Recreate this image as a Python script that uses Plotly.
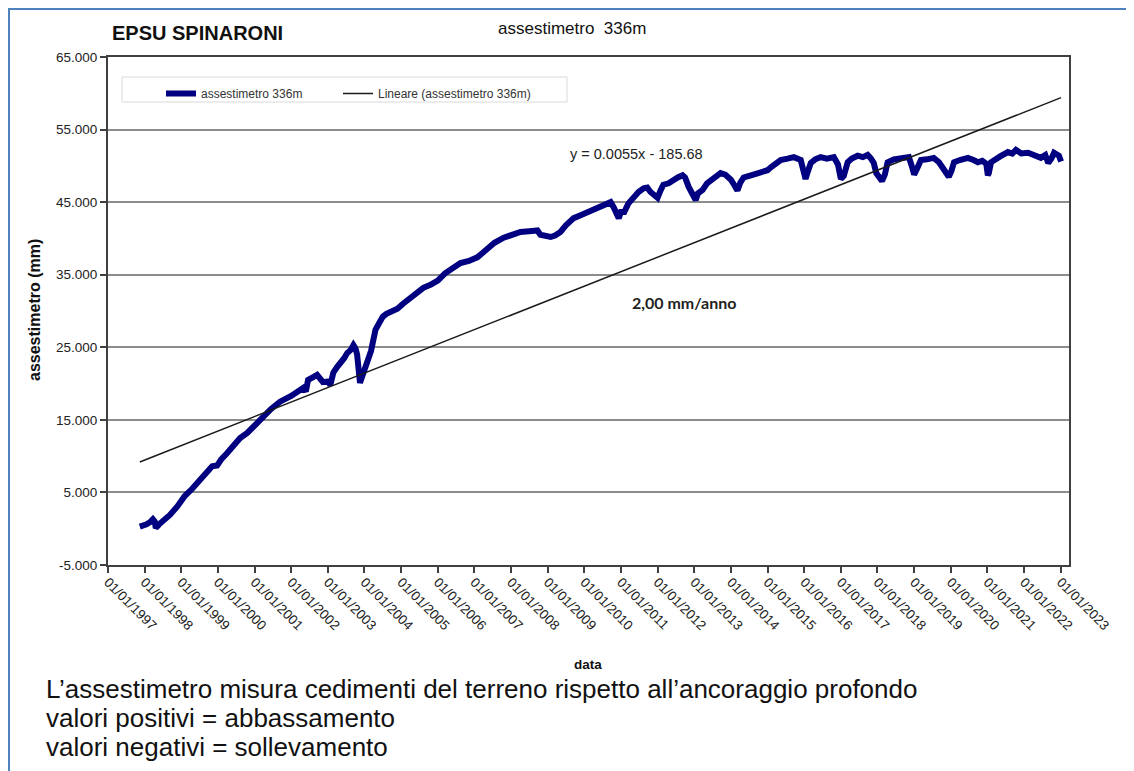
import plotly.graph_objects as go

# ---- data ----
dates = [
    "1997-11-14", "1997-12-15", "1998-01-20", "1998-02-25", "1998-03-25", "1998-04-12", "1998-04-22",
    "1998-05-25", "1998-07-20", "1998-09-10", "1998-11-25", "1999-02-05", "1999-04-20", "1999-07-01",
    "1999-09-12", "1999-11-05", "1999-12-25", "2000-02-05", "2000-04-01", "2000-06-15", "2000-08-10",
    "2000-10-20", "2000-12-15", "2001-02-05", "2001-03-28", "2001-06-15", "2001-09-12", "2002-01-01",
    "2002-05-01", "2002-05-27", "2002-06-18", "2002-08-08", "2002-09-16", "2002-11-13", "2003-01-01",
    "2003-01-26", "2003-02-25", "2003-04-05", "2003-05-08", "2003-06-13", "2003-07-13", "2003-08-15",
    "2003-09-13", "2003-10-05", "2003-10-20", "2003-11-03", "2003-11-18", "2003-12-05", "2004-01-01",
    "2004-01-30", "2004-03-07", "2004-04-20", "2004-05-26", "2004-07-01", "2004-08-07", "2004-10-01",
    "2004-11-25", "2005-01-20", "2005-04-02", "2005-06-13", "2005-08-10", "2005-10-20", "2006-01-01",
    "2006-03-15", "2006-06-07", "2006-08-15", "2006-11-07", "2007-01-30", "2007-03-23", "2007-05-12",
    "2007-07-20", "2007-10-20", "2008-01-01", "2008-04-05", "2008-07-01", "2008-09-20", "2008-10-20",
    "2008-12-13", "2009-01-30", "2009-03-15", "2009-05-08", "2009-07-01", "2009-09-17", "2009-11-25",
    "2010-02-02", "2010-04-01", "2010-06-10", "2010-08-08", "2010-09-20", "2010-10-20", "2010-11-17",
    "2010-12-10", "2011-01-08", "2011-01-26", "2011-03-15", "2011-05-05", "2011-06-25", "2011-08-15",
    "2011-09-20", "2011-10-23", "2011-12-03", "2012-01-01", "2012-01-30", "2012-02-28", "2012-04-20",
    "2012-06-10", "2012-07-20", "2012-09-06", "2012-10-01", "2012-11-06", "2012-12-13", "2013-01-15",
    "2013-02-06", "2013-03-25", "2013-05-08", "2013-07-13", "2013-09-20", "2013-11-06", "2014-01-01",
    "2014-02-06", "2014-03-07", "2014-04-05", "2014-05-08", "2014-07-20", "2014-09-24", "2014-11-17",
    "2015-01-01", "2015-02-03", "2015-03-15", "2015-05-12", "2015-07-20", "2015-09-20", "2015-11-28",
    "2015-12-23", "2016-01-15", "2016-02-06", "2016-03-07", "2016-04-20", "2016-06-13", "2016-08-15",
    "2016-10-23", "2016-12-03", "2017-01-01", "2017-01-30", "2017-03-10", "2017-04-20", "2017-06-18",
    "2017-08-08", "2017-09-25", "2017-10-28", "2017-11-25", "2017-12-20", "2018-01-15", "2018-02-15",
    "2018-03-15", "2018-04-12", "2018-06-13", "2018-08-22", "2018-11-10", "2018-12-13", "2019-01-01",
    "2019-01-30", "2019-03-10", "2019-05-08", "2019-07-16", "2019-09-06", "2019-10-15", "2019-11-17",
    "2019-12-13", "2020-01-08", "2020-02-03", "2020-04-01", "2020-06-20", "2020-08-15", "2020-09-27",
    "2020-11-10", "2020-12-20", "2021-01-05", "2021-01-15", "2021-02-06", "2021-03-07", "2021-05-08",
    "2021-07-24", "2021-09-06", "2021-10-12", "2021-12-03", "2022-02-10", "2022-04-20", "2022-06-17",
    "2022-08-01", "2022-08-30", "2022-10-01", "2022-10-27", "2022-12-15", "2023-01-05",
]
values = [
    0.3, 0.4, 0.6, 0.9, 1.3, 1.0, 0.1,
    0.6, 1.2, 1.9, 3.1, 4.5, 5.5, 6.7,
    7.8, 8.6, 8.7, 9.6, 10.4, 11.5, 12.5,
    13.2, 13.9, 14.6, 15.4, 16.5, 17.5, 18.3,
    19.4, 18.9, 20.5, 20.9, 21.2, 20.2, 20.3,
    19.8, 21.5, 22.3, 22.8, 23.5, 24.2, 24.6,
    25.3, 24.8, 24.0, 21.8, 20.1, 20.8, 21.8,
    22.8, 24.5, 27.4, 28.5, 29.2, 29.6, 30.0,
    30.3, 31.0, 31.8, 32.5, 33.2, 33.6, 34.2,
    35.2, 36.1, 36.6, 36.9, 37.4, 38.0, 38.7,
    39.4, 40.1, 40.5, 40.9, 41.0, 41.1, 40.5,
    40.3, 40.2, 40.4, 40.9, 41.8, 42.8, 43.2,
    43.6, 43.9, 44.3, 44.6, 45.0, 44.3, 43.2,
    42.8, 43.9, 43.4, 44.8, 45.7, 46.4, 46.9,
    47.0, 46.4, 46.0, 45.6, 46.6, 47.4, 47.6,
    48.1, 48.4, 48.7, 48.4, 47.1, 46.0, 45.3,
    46.2, 46.7, 47.6, 48.4, 49.0, 48.8, 48.1,
    47.3, 46.6, 47.7, 48.4, 48.7, 49.0, 49.2,
    49.4, 49.8, 50.3, 50.8, 51.0, 51.2, 50.8,
    49.6, 48.2, 49.2, 50.4, 50.9, 51.2, 51.0,
    51.2, 50.2, 48.2, 48.6, 50.5, 51.0, 51.4,
    51.2, 51.5, 51.0, 50.4, 49.0, 48.5, 47.9,
    48.8, 50.5, 50.9, 51.1, 51.2, 49.8, 48.8,
    49.6, 50.8, 50.9, 51.1, 50.5, 49.8, 48.9,
    48.5, 49.3, 50.5, 50.8, 51.1, 50.8, 50.5,
    50.7, 50.3, 48.7, 49.0, 50.5, 50.8, 51.3,
    51.9, 51.7, 52.2, 51.7, 51.8, 51.4, 51.1,
    51.5, 50.4, 51.0, 51.8, 51.4, 50.6,
]

trend_dates = [dates[0], dates[-1]]
trend_values = [9.2, 59.4]

series_name = "assestimetro 336m"
trend_name = "Lineare (assestimetro 336m)"

years = list(range(1997, 2024))
x_tickvals = [f"{y}-01-01" for y in years]
x_ticktext = [f"01/01/{y}" for y in years]

y_tickvals = [-5, 5, 15, 25, 35, 45, 55, 65]
y_ticktext = ["-5.000", "5.000", "15.000", "25.000", "35.000", "45.000", "55.000", "65.000"]

FONT = "Arial, Liberation Sans, sans-serif"

fig = go.Figure()
fig.add_trace(go.Scatter(
    x=dates, y=values, mode="lines", name=series_name,
    line=dict(color="#000080", width=6), legend="legend",
))
fig.add_trace(go.Scatter(
    x=trend_dates, y=trend_values, mode="lines", name=trend_name,
    line=dict(color="#1a1a1a", width=1.5), legend="legend2",
))

# page coordinates of the reference -> figure (the page body has an 8px margin)
OFF = 8
PL, PT, PR, PB = 108, 57, 1069, 565   # plot area on the page
W, H = 1134 - OFF, 771 - OFF
L, T = PL - OFF, PT - OFF
R = W - (PR - OFF)
B = H - (PB - OFF)
pw, ph = PR - PL, PB - PT


def px(xp):
    return (xp - PL) / pw


def py(yp):
    return (PB - yp) / ph


legend_common = dict(
    orientation="h", yanchor="top", xanchor="left",
    bgcolor="rgba(0,0,0,0)", borderwidth=0,
    font=dict(size=12, color="#333333", family=FONT),
    itemwidth=30,
)

fig.update_layout(
    width=W, height=H,
    margin=dict(l=L, r=R, t=T, b=B, autoexpand=False),
    paper_bgcolor="white", plot_bgcolor="white",
    font=dict(family=FONT, color="#222222"),
    showlegend=True,
    legend=dict(x=px(161), y=py(79), **legend_common),
    legend2=dict(x=px(338), y=py(79), **legend_common),
    xaxis=dict(
        type="date", range=["1997-01-01", "2023-03-25"],
        tickmode="array", tickvals=x_tickvals, ticktext=x_ticktext,
        tickangle=45, ticks="outside", ticklen=6, tickcolor="#404040", tickwidth=1.5,
        tickfont=dict(size=13.5, color="#222222", family=FONT),
        ticklabelstandoff=-4,
        showgrid=False, zeroline=False,
        showline=True, linecolor="#404040", linewidth=2, mirror=True,
    ),
    yaxis=dict(
        range=[-5, 65], tickmode="array", tickvals=y_tickvals, ticktext=y_ticktext,
        ticks="outside", ticklen=6, tickcolor="#404040", tickwidth=1.5,
        tickfont=dict(size=13.5, color="#222222", family=FONT),
        showgrid=True, gridcolor="#8c8c8c", gridwidth=1.5, zeroline=False,
        showline=True, linecolor="#404040", linewidth=2, mirror=True,
    ),
    shapes=[
        dict(type="rect", xref="paper", yref="paper",
             x0=px(9), x1=px(1131), y0=py(790), y1=py(9),
             line=dict(color="#4f81bd", width=2), fillcolor="rgba(0,0,0,0)", layer="below"),
        dict(type="rect", xref="paper", yref="paper",
             x0=px(122), x1=px(567), y0=py(102), y1=py(77),
             line=dict(color="#d9d9d9", width=1), fillcolor="white", layer="below"),
    ],
    annotations=[
        dict(text="<b>EPSU SPINARONI</b>", xref="paper", yref="paper", x=px(110), y=py(33),
             xanchor="left", yanchor="middle", showarrow=False,
             font=dict(size=20, color="#111111", family=FONT)),
        dict(text="assestimetro  336m", xref="paper", yref="paper", x=px(496), y=py(28),
             xanchor="left", yanchor="middle", showarrow=False,
             font=dict(size=17, color="#111111", family=FONT)),
        dict(text="<b>assestimetro (mm)</b>", xref="paper", yref="paper", x=px(34), y=py(310),
             xanchor="center", yanchor="middle", textangle=-90, showarrow=False,
             font=dict(size=16, color="#111111", family=FONT)),
        dict(text="<b>data</b>", xref="paper", yref="paper", x=px(588), y=py(664),
             xanchor="center", yanchor="middle", showarrow=False,
             font=dict(size=13.5, color="#111111", family=FONT)),
        dict(text="y = 0.0055x - 185.68", xref="paper", yref="paper", x=px(636), y=py(154),
             xanchor="center", yanchor="middle", showarrow=False,
             font=dict(size=14.5, color="#222222", family=FONT)),
        dict(text="<b>2,00 mm/anno</b>", xref="paper", yref="paper", x=px(684), y=py(302),
             xanchor="center", yanchor="middle", showarrow=False,
             font=dict(size=16, color="#222222", family="Lato, Open Sans, sans-serif")),
        dict(text="L\u2019assestimetro misura cedimenti del terreno rispetto all\u2019ancoraggio profondo",
             xref="paper", yref="paper", x=px(44), y=py(689),
             xanchor="left", yanchor="middle", showarrow=False,
             font=dict(size=26, color="#111111", family=FONT)),
        dict(text="valori positivi = abbassamento",
             xref="paper", yref="paper", x=px(44), y=py(718),
             xanchor="left", yanchor="middle", showarrow=False,
             font=dict(size=26, color="#111111", family=FONT)),
        dict(text="valori negativi = sollevamento",
             xref="paper", yref="paper", x=px(44), y=py(747),
             xanchor="left", yanchor="middle", showarrow=False,
             font=dict(size=26, color="#111111", family=FONT)),
    ],
)

fig.write_html("out.html")
